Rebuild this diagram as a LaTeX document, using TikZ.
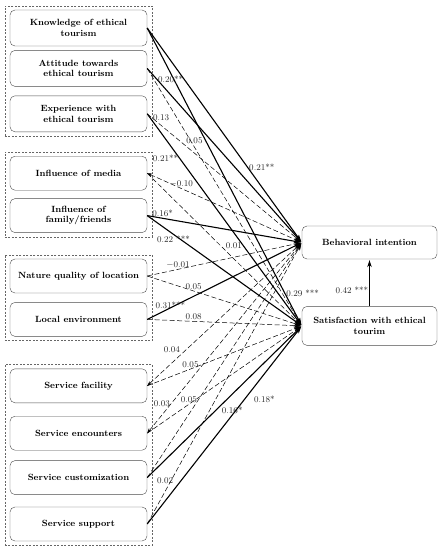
\documentclass[tikz,border=0pt]{standalone}
\usepackage{tikz}
\usetikzlibrary{positioning,fit,arrows.meta}
\tikzset{>={Stealth[length=7pt,width=4.5pt]},
shorten >=1pt,
el/.style={font=\fontsize{8.8}{10}\selectfont,inner sep=1pt,text=black!85},
pr/.style={rectangle,draw=black!70,rounded corners=5pt,minimum width=137pt,minimum height=34pt,align=center,font=\fontsize{9}{10.5}\selectfont\bfseries,inner sep=2pt},
ou/.style={pr,minimum width=135pt},
grp/.style={draw=black!60,dash pattern=on 2pt off 1.5pt,line width=0.6pt,inner xsep=5pt,inner ysep=4pt},
sg/.style={->,line width=1.1pt},
ns/.style={->,line width=0.5pt,dash pattern=on 5pt off 2.5pt},
}
\begin{document}
\begin{tikzpicture}[x=1pt,y=-1pt]
\useasboundingbox (0,0) rectangle (442,550);
% predictors
\node[pr,minimum height=36pt] (know) at (78.5,28) {Knowledge of ethical\\tourism};
\node[pr,minimum height=36pt,below=4pt of know] (att) {Attitude towards\\ethical tourism};
\node[pr,minimum height=36pt,below=9pt of att] (exper) {Experience with\\ethical tourism};
\node[pr,below=24pt of exper] (media) {Influence of media};
\node[pr,below=8pt of media] (fam) {Influence of\\family/friends};
\node[pr,below=26pt of fam] (nat) {Nature quality of location};
\node[pr,below=9pt of nat] (loc) {Local environment};
\node[pr,below=32pt of loc] (fac) {Service facility};
\node[pr,below=13pt of fac] (enc) {Service encounters};
\node[pr,below=10pt of enc] (cust) {Service customization};
\node[pr,below=12pt of cust] (supp) {Service support};

% groups
\node[grp,fit=(know)(exper)] (g1) {};
\node[grp,fit=(media)(fam)] (g2) {};
\node[grp,fit=(nat)(loc)] (g3) {};
\node[grp,fit=(fac)(supp)] (g4) {};

% outcomes
\node[ou,minimum height=33pt] (bi) at (369.5,242.5) {Behavioral intention};
\node[ou,minimum height=39pt,below=47pt of bi] (sat) {Satisfaction with ethical\\tourim};

\path
(know.east) edge[sg] node[el,pos=0.65,right] {0.21**} (bi.west)
(know.east) edge[sg] node[el,pos=0.89,right] {0.29 ***} (sat.west)
(att.east) edge[sg] node[el,pos=0.06,right] {0.20**} (bi.west)
(att.east) edge[ns] node[el,pos=0.28,xshift=4pt] {0.05} (sat.west)
(exper.east) edge[ns] node[el,pos=0.03,right] {0.13} (bi.west)
(exper.east) edge[sg] node[el,pos=0.21,left] {0.21**} (sat.west)
(media.east) edge[ns,{Stealth[length=5pt,width=3.5pt]}-{Stealth[length=7pt,width=4.5pt]}] node[el,pos=0.22,above] {$-$0.10} (bi.west)
(media.east) edge[ns] node[el,pos=0.5,above right] {0.01} (sat.west)
(fam.east) edge[sg] node[el,pos=0.1,above] {0.16*} (bi.west)
(fam.east) edge[sg] node[el,pos=0.17,below] {0.22 ***} (sat.west)
(nat.east) edge[ns] node[el,pos=0.2,above] {$-$0.01} (bi.west)
(nat.east) edge[ns] node[el,pos=0.3,above] {0.05} (sat.west)
(loc.east) edge[sg] node[el,pos=0.15,yshift=3pt] {0.31***} (bi.west)
(loc.east) edge[ns] node[el,pos=0.3,above] {0.08} (sat.west)
(fac.east) edge[ns,{Stealth[length=5pt,width=3.5pt]}-{Stealth[length=7pt,width=4.5pt]}] node[el,pos=0.22,above left] {0.04} (bi.west)
(fac.east) edge[ns] node[el,pos=0.28,above] {0.05} (sat.west)
(enc.east) edge[ns,{Stealth[length=5pt,width=3.5pt]}-{Stealth[length=7pt,width=4.5pt]}] node[el,pos=0.155,left] {0.03} (bi.west)
(enc.east) edge[ns] node[el,pos=0.27,above] {0.05} (sat.west)
(cust.east) edge[ns] (bi.west)
(cust.east) edge[sg] node[el,pos=0.55,below=11pt] {0.16*} (sat.west)
(supp.east) edge[ns] node[el,pos=0.155,xshift=-6pt] {0.02} (bi.west)
(supp.east) edge[sg] node[el,pos=0.63,right=8pt] {0.18*} (sat.west)
(sat) edge[->,line width=0.5pt] node[el,pos=0.34,left] {0.42 ***} (bi)
;
\end{tikzpicture}
\end{document}
